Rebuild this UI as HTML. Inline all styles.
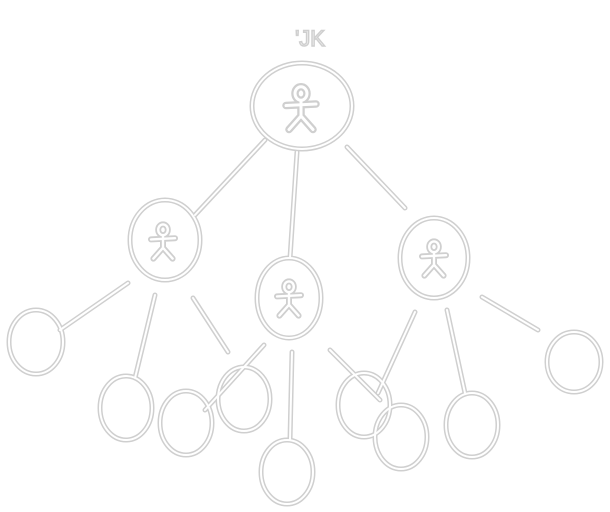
<!DOCTYPE html>
<html><head><style>
html,body{margin:0;padding:0;background:#fff;width:610px;height:512px;overflow:hidden}
svg{display:block}
</style></head><body>
<svg width="610" height="512" viewBox="0 0 610 512" xmlns="http://www.w3.org/2000/svg">
<defs>
<g id="fig">
<ellipse cx="0" cy="-11" rx="4" ry="4.5"/>
<path d="M0,-6 L0,4 M-10,-3 L10,-4 M0,4 L-8,13 M0,4 L8,13"/>
</g>
</defs>
<g id="shapes" fill="none" stroke-linecap="round" stroke-linejoin="round">
<g id="lines">
<path d="M265,140 L195,215"/>
<path d="M297,152 L290,258"/>
<path d="M347,147 L405,208"/>
<path d="M128,283 L60,330"/>
<path d="M155,295 L135,378"/>
<path d="M193,298 L228,352"/>
<path d="M264,345 L205,410"/>
<path d="M292,352 L290,440"/>
<path d="M330,350 L380,400"/>
<path d="M415,312 L378,393"/>
<path d="M447,310 L465,393"/>
<path d="M482,297 L538,330"/>
<ellipse cx="302" cy="106" rx="50" ry="43"/>
<ellipse cx="165" cy="240" rx="35" ry="40"/>
<ellipse cx="289" cy="298" rx="32" ry="40"/>
<ellipse cx="434" cy="258" rx="34" ry="40"/>
<ellipse cx="36" cy="342" rx="27" ry="32"/>
<ellipse cx="126" cy="408" rx="26" ry="32"/>
<ellipse cx="186" cy="423" rx="26" ry="32"/>
<ellipse cx="244" cy="399" rx="26" ry="32"/>
<ellipse cx="287" cy="472" rx="26" ry="32"/>
<ellipse cx="364" cy="405" rx="26" ry="32"/>
<ellipse cx="401" cy="437" rx="26" ry="32"/>
<ellipse cx="472" cy="425" rx="26" ry="32"/>
<ellipse cx="574" cy="362" rx="27" ry="30"/>
<use href="#fig" transform="translate(301,110) scale(1.5)"/>
<use href="#fig" transform="translate(163,243) scale(1.2)"/>
<use href="#fig" transform="translate(289,300) scale(1.2)"/>
<use href="#fig" transform="translate(434,260) scale(1.2)"/>
</g>
</g>
<use href="#lines" stroke="#cfcfcf" stroke-width="5" fill="none" stroke-linecap="round"/>
<use href="#lines" stroke="#ffffff" stroke-width="2" fill="none" stroke-linecap="round"/>
<text x="310" y="46" text-anchor="middle" font-family="Liberation Sans, sans-serif" font-size="22" fill="#fff" stroke="#cfcfcf" stroke-width="1.5">'JK</text>
</svg>
</body></html>
